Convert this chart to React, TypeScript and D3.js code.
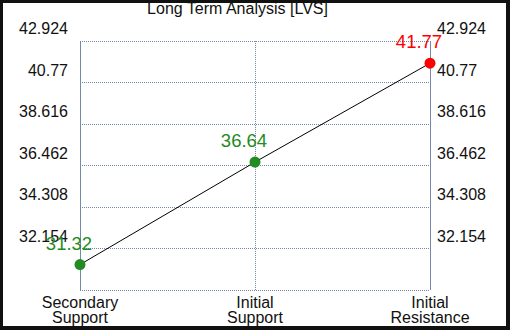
import * as d3 from "d3";

const title = "Long Term Analysis [LVS]";
const categories = ["Secondary Support", "Initial Support", "Initial Resistance"];
const values = [31.32, 36.64, 41.77];
const pointColors = ["#228b22", "#228b22", "#ff0000"];
const tickValues = [32.154, 34.308, 36.462, 38.616, 40.77, 42.924];
const yMin = 30;
const yMax = 42.924;

const W = 510;
const H = 330;
const left = 80;
const right = 430;
const top = 41;
const bottom = 290;
const font = "'Liberation Sans', Arial, sans-serif";
const gridColor = "#7489a8";

const App = () => {
  const x = d3.scalePoint<string>().domain(categories).range([left, right]);
  const y = d3.scaleLinear().domain([yMin, yMax]).range([bottom, top]);

  const line = d3
    .line<number>()
    .x((_, i) => x(categories[i]) as number)
    .y((d) => y(d));

  return (
    <svg
      width={W}
      height={H}
      style={{ position: "absolute", left: 0, top: 0, fontFamily: font }}
    >
      <rect x={0} y={0} width={W} height={H} fill="#111" />
      <rect x={3} y={3} width={W - 7} height={H - 7} fill="white" />

      <text x={237.5} y={14} textAnchor="middle" fontSize={16} fill="#111">
        {title}
      </text>
      {/* border drawn over the title so its top is clipped like the reference */}
      <rect x={0} y={0} width={W} height={3} fill="#111" />

      {/* horizontal grid */}
      {[yMin, ...tickValues].map((t) => (
        <line
          key={"h" + t}
          x1={left}
          x2={right}
          y1={Math.round(y(t)) + 0.5}
          y2={Math.round(y(t)) + 0.5}
          stroke={gridColor}
          strokeDasharray="1,1"
        />
      ))}
      {/* middle vertical grid */}
      <line
        x1={(x(categories[1]) as number) + 0.5}
        x2={(x(categories[1]) as number) + 0.5}
        y1={top}
        y2={bottom}
        stroke={gridColor}
        strokeDasharray="1,1"
      />
      <line x1={left + 0.5} x2={left + 0.5} y1={top} y2={bottom} stroke={gridColor} />
      <line x1={right + 0.5} x2={right + 0.5} y1={top} y2={bottom} stroke={gridColor} />

      {tickValues.map((t) => (
        <g key={"t" + t} fontSize={16} fill="#111">
          <text x={68} y={y(t) - 7} textAnchor="end">
            {t}
          </text>
          <text x={437} y={y(t) - 7} textAnchor="start">
            {t}
          </text>
        </g>
      ))}

      {categories.map((c) => {
        const parts = c.split(" ");
        return (
          <text key={c} x={x(c)} y={308} textAnchor="middle" fontSize={16} fill="#111">
            <tspan x={x(c)}>{parts[0]}</tspan>
            <tspan x={x(c)} dy={15}>
              {parts[1]}
            </tspan>
          </text>
        );
      })}

      <path d={line(values) || ""} fill="none" stroke="black" strokeWidth={1} />

      {values.map((v, i) => (
        <g key={"p" + i}>
          <circle cx={x(categories[i])} cy={y(v)} r={5.5} fill={pointColors[i]} />
          <text
            x={(x(categories[i]) as number) - 11}
            y={y(v) - 15}
            textAnchor="middle"
            fontSize={18.5}
            fill={pointColors[i]}
          >
            {v}
          </text>
        </g>
      ))}
    </svg>
  );
};

export default App;
